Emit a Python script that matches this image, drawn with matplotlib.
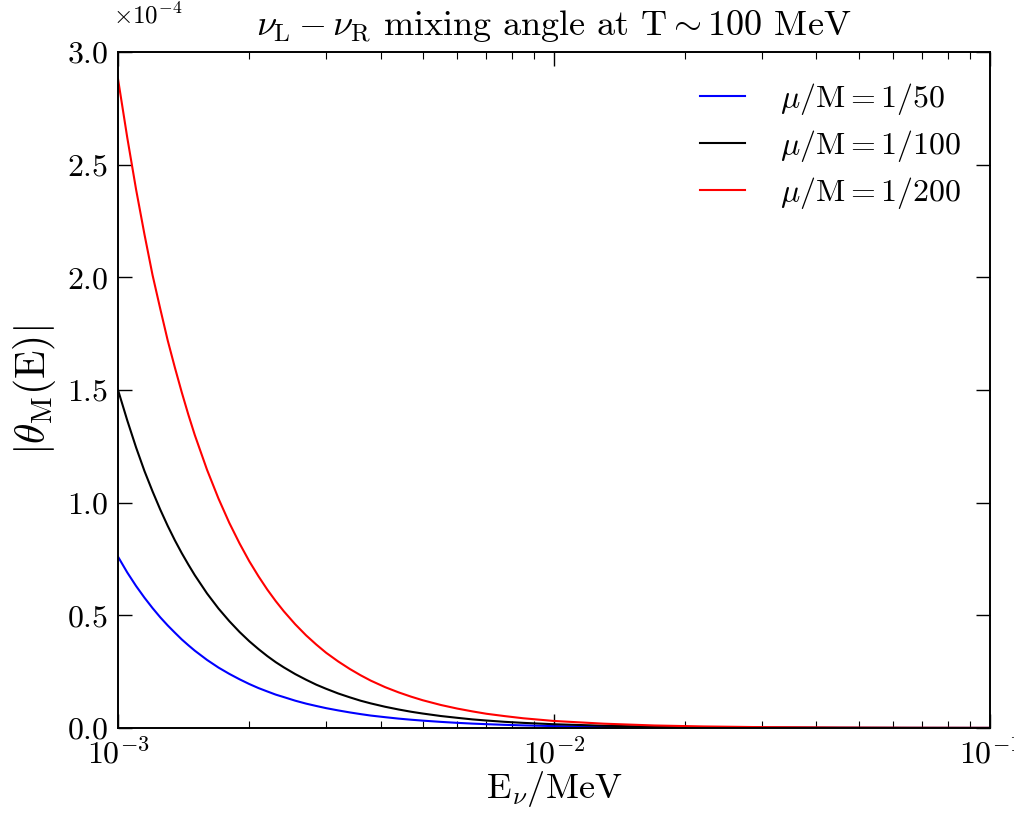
import matplotlib
matplotlib.use("Agg")
import matplotlib.pyplot as plt
from matplotlib.ticker import LogLocator, NullFormatter, MultipleLocator

plt.rcParams['font.family'] = 'serif'
plt.rcParams['font.serif'] = ['cmr10', 'DejaVu Serif']
plt.rcParams['mathtext.fontset'] = 'cm'
plt.rcParams['axes.formatter.use_mathtext'] = True
plt.rcParams['axes.unicode_minus'] = False

# Energy grid (MeV)
E = [1.00e-3, 1.05e-3, 1.10e-3, 1.15e-3, 1.20e-3, 1.25e-3, 1.30e-3, 1.35e-3,
     1.40e-3, 1.45e-3, 1.50e-3, 1.60e-3, 1.70e-3, 1.80e-3, 1.90e-3, 2.00e-3,
     2.10e-3, 2.20e-3, 2.30e-3, 2.40e-3, 2.55e-3, 2.70e-3, 2.85e-3, 3.00e-3,
     3.20e-3, 3.40e-3, 3.60e-3, 3.80e-3, 4.10e-3, 4.40e-3, 4.70e-3, 5.00e-3,
     5.50e-3, 6.00e-3, 6.50e-3, 7.00e-3, 7.70e-3, 8.50e-3, 1.00e-2, 1.30e-2,
     1.70e-2, 2.20e-2, 3.00e-2, 4.50e-2, 6.50e-2, 1.00e-1]

# |theta_M(E)| in units of 1e-4
theta_50 = [0.76, 0.69, 0.63, 0.578, 0.532, 0.491, 0.455, 0.423,
            0.393, 0.367, 0.343, 0.302, 0.268, 0.24, 0.216, 0.195,
            0.177, 0.162, 0.148, 0.137, 0.121, 0.108, 0.0975, 0.088,
            0.0778, 0.069, 0.0615, 0.055, 0.0478, 0.0415, 0.0366, 0.0325,
            0.027, 0.0227, 0.0193, 0.0168, 0.0139, 0.0114, 0.0083, 0.005,
            0.0029, 0.0018, 0.00095, 0.00043, 0.0002, 0.00009]
theta_100 = [1.50, 1.365, 1.245, 1.14, 1.05, 0.969, 0.897, 0.833,
             0.776, 0.725, 0.678, 0.597, 0.53, 0.474, 0.426, 0.385,
             0.350, 0.319, 0.292, 0.269, 0.239, 0.214, 0.192, 0.174,
             0.153, 0.136, 0.121, 0.109, 0.094, 0.082, 0.072, 0.064,
             0.053, 0.045, 0.038, 0.033, 0.0273, 0.0226, 0.0165, 0.0099,
             0.0058, 0.0035, 0.0019, 0.00085, 0.0004, 0.00018]
theta_200 = [2.88, 2.62, 2.39, 2.19, 2.01, 1.86, 1.72, 1.60,
             1.49, 1.39, 1.30, 1.146, 1.018, 0.910, 0.819, 0.740,
             0.673, 0.614, 0.563, 0.518, 0.460, 0.411, 0.370, 0.334,
             0.295, 0.262, 0.234, 0.210, 0.181, 0.158, 0.139, 0.123,
             0.102, 0.086, 0.0735, 0.063, 0.0527, 0.043, 0.031, 0.019,
             0.011, 0.0067, 0.0036, 0.0016, 0.0008, 0.00035]

series = [
    (theta_50, 'blue', r'$\mu/\mathrm{M}=1/50$'),
    (theta_100, 'black', r'$\mu/\mathrm{M}=1/100$'),
    (theta_200, 'red', r'$\mu/\mathrm{M}=1/200$'),
]

fig = plt.figure(figsize=(10.14, 8.13), dpi=100)
ax = fig.add_axes([0.1164, 0.1046, 0.8599, 0.8314])

for vals, col, lab in series:
    ax.plot(E, [v * 1e-4 for v in vals], color=col, lw=1.5, label=lab)

ax.set_xscale('log')
ax.set_xlim(1e-3, 1e-1)
ax.set_ylim(0, 3e-4)
ax.yaxis.set_major_locator(MultipleLocator(0.5e-4))
ax.ticklabel_format(axis='y', style='sci', scilimits=(0, 0))
ax.xaxis.set_minor_locator(LogLocator(base=10, subs=range(2, 10)))
ax.xaxis.set_minor_formatter(NullFormatter())

ax.tick_params(which='both', direction='in', top=True, right=True)
ax.tick_params(which='major', length=10, width=1.0, labelsize=23, pad=7)
ax.tick_params(which='minor', length=5, width=0.8)
for s in ax.spines.values():
    s.set_linewidth(1.4)
ax.yaxis.get_offset_text().set_visible(False)
ax.text(-0.006, 1.035, r'$\times10^{-4}$', transform=ax.transAxes,
        fontsize=18, ha='left', va='bottom')

ax.set_xlabel(r'$\mathrm{E}_{\nu}/\mathrm{MeV}$', fontsize=26, labelpad=0)
ax.set_ylabel(r'$|\theta_{\mathrm{M}}(\mathrm{E})|$', fontsize=30, labelpad=6)
ax.set_title(r'$\nu_{\mathrm{L}}-\nu_{\mathrm{R}}$ mixing angle at T$\sim$100 MeV',
             fontsize=26, pad=12)

ax.legend(loc='upper right', frameon=False, fontsize=23, handlelength=1.4,
          handletextpad=1.1, labelspacing=0.35, borderaxespad=0.5)

fig.savefig('out.png', dpi=100)
